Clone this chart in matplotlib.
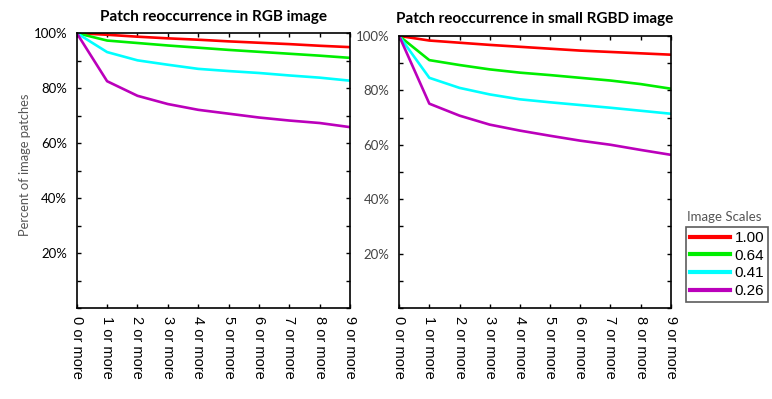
import matplotlib
matplotlib.use('Agg')
import matplotlib.pyplot as plt
from matplotlib.ticker import MultipleLocator, FuncFormatter
from matplotlib.lines import Line2D
import matplotlib.transforms as mtransforms

plt.rcParams['font.family'] = 'Liberation Sans'

steps = list(range(10))
step_labels = ['%d or more' % s for s in steps]
scales = ['1.00', '0.64', '0.41', '0.26']
colors = ['#ff0000', '#00ee00', '#00ffff', '#bb00bb']

# percent of patches, RGB image
rgb = {
    '1.00': [100, 99.4, 98.7, 98.1, 97.6, 97.0, 96.5, 96.0, 95.4, 94.9],
    '0.64': [100, 97.3, 96.4, 95.5, 94.7, 93.9, 93.2, 92.5, 91.8, 91.0],
    '0.41': [100, 93.1, 90.1, 88.5, 87.0, 86.2, 85.5, 84.6, 83.8, 82.7],
    '0.26': [100, 82.5, 77.2, 74.2, 72.1, 70.7, 69.3, 68.2, 67.3, 65.8],
}
# percent of patches, small RGBD image
rgbd = {
    '1.00': [100, 98.3, 97.5, 96.7, 96.0, 95.3, 94.6, 94.1, 93.6, 93.1],
    '0.64': [100, 91.1, 89.3, 87.7, 86.5, 85.6, 84.6, 83.6, 82.3, 80.6],
    '0.41': [100, 84.6, 80.9, 78.5, 76.7, 75.6, 74.6, 73.6, 72.5, 71.4],
    '0.26': [100, 75.1, 70.7, 67.4, 65.2, 63.3, 61.5, 60.0, 58.1, 56.3],
}

fig = plt.figure(figsize=(7.72, 3.99), dpi=100)
ax1 = fig.add_axes([0.0994, 0.228, 0.354, 0.689])
ax2 = fig.add_axes([0.517, 0.228, 0.352, 0.682])


def pct(v, _):
    return '%d%%' % v if v > 0 else ''


# tick labels sit a few pixels below their ticks in the original
shift = mtransforms.ScaledTranslation(0, -4 / 100, fig.dpi_scale_trans)

for ax, data, title, lblcol in [(ax1, rgb, 'Patch reoccurrence in RGB image', 'black'),
                                 (ax2, rgbd, 'Patch reoccurrence in small RGBD image', '#444444')]:
    for name, c in zip(scales, colors):
        ax.plot(steps, data[name], color=c, linewidth=1.9, label=name)
    ax.set_xlim(0, 9)
    ax.set_ylim(0, 100)
    ax.set_xticks(steps)
    ax.set_xticklabels(step_labels, rotation=270, fontsize=10.5, va='top', ha='center')
    ax.yaxis.set_major_locator(MultipleLocator(20))
    ax.yaxis.set_minor_locator(MultipleLocator(10))
    ax.yaxis.set_major_formatter(FuncFormatter(pct))
    for lbl in ax.get_yticklabels():
        lbl.set_fontfamily('Lato')
        lbl.set_fontsize(9.5)
        lbl.set_color(lblcol)
        lbl.set_transform(lbl.get_transform() + shift)
    ax.tick_params(direction='in', top=True, right=True, which='both', length=3, width=1)
    ax.tick_params(axis='y', pad=7)
    ax.tick_params(axis='x', pad=6)
    for s in ax.spines.values():
        s.set_linewidth(1.2)
    ax.set_title(title, fontsize=11, fontweight='bold', fontfamily='Lato', pad=9)

ax1.set_ylabel('Percent of image patches', fontsize=9.3, fontfamily='Lato', color='#555555')
ax1.yaxis.set_label_coords(-0.168, 0.52)

handles = [Line2D([0], [0], color=c, linewidth=3) for c in colors]
leg = fig.legend(handles, scales, loc='upper left', bbox_to_anchor=(0.889, 0.431),
                 fontsize=11, frameon=True, fancybox=False,
                 edgecolor='#333333', handlelength=2.6, handletextpad=0.3,
                 labelspacing=0.25, borderpad=0.25, borderaxespad=0)
leg.get_frame().set_linewidth(1.2)
fig.text(0.938, 0.455, 'Image Scales', fontsize=9.5, fontfamily='Lato', color='#555555',
         ha='center', va='center')

fig.savefig('out.png', dpi=100)
